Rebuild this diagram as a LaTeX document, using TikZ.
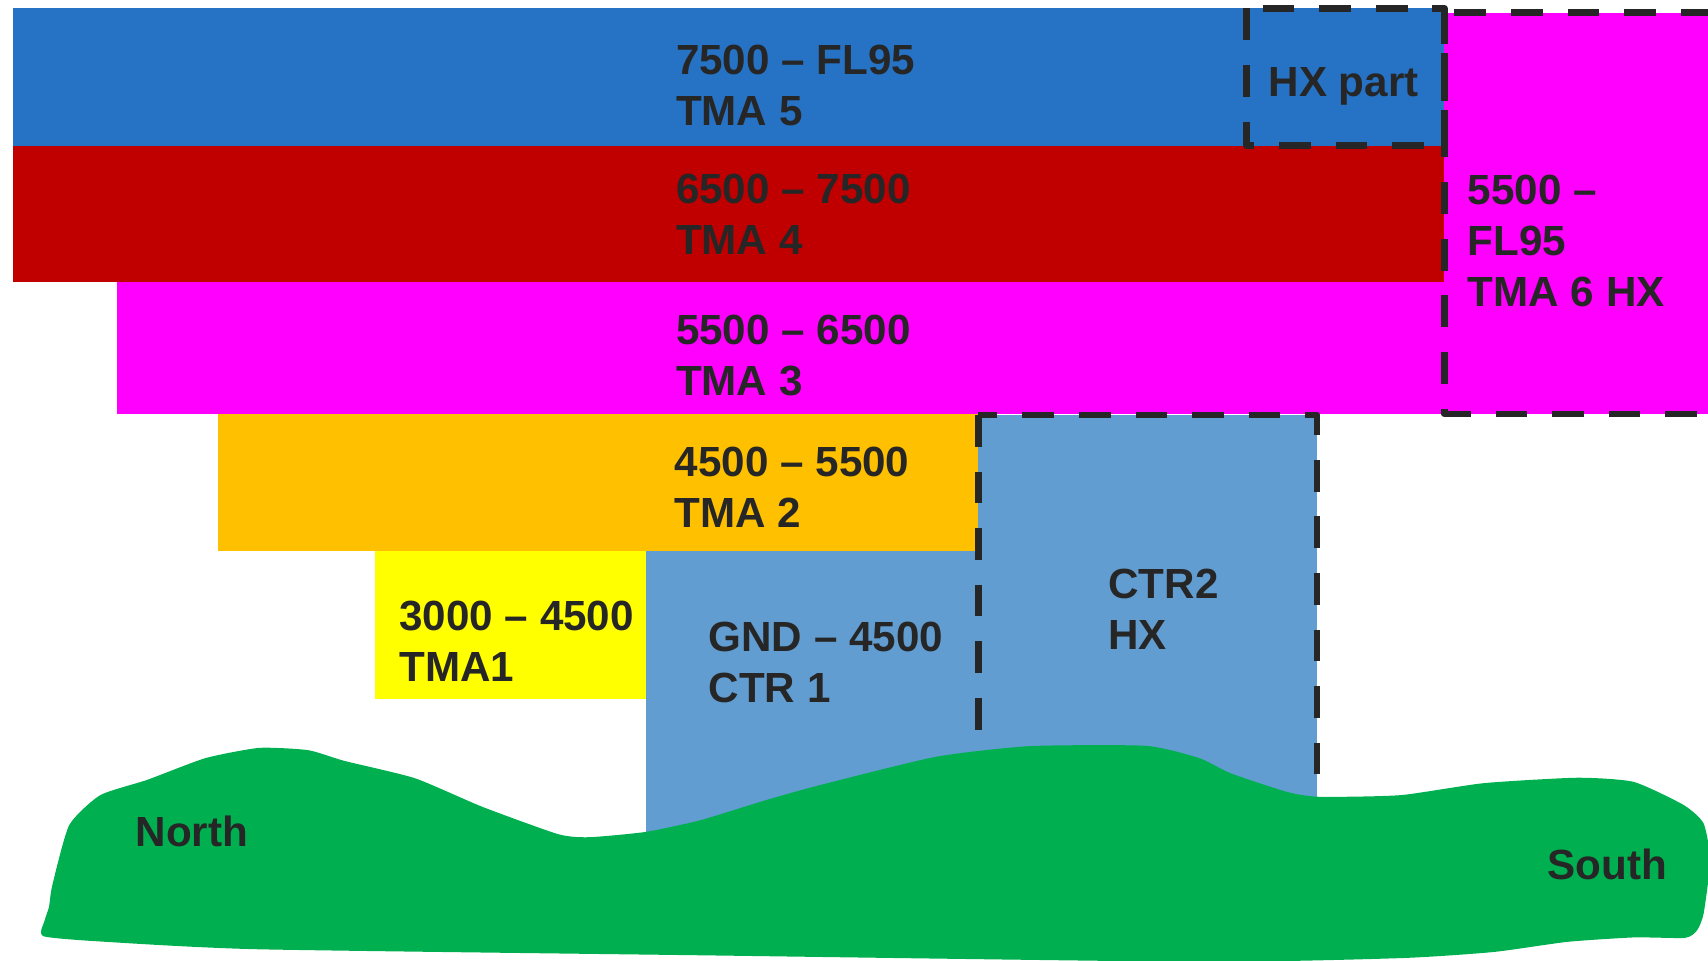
\documentclass[tikz,border=0pt]{standalone}
\usepackage{fontspec}
\setmainfont{Liberation Sans}
\usepackage{tikz}
\usetikzlibrary{positioning,scopes}

\definecolor{tmafive}{RGB}{38,114,196}
\definecolor{tmafour}{RGB}{192,0,0}
\definecolor{tmamag}{RGB}{255,0,255}
\definecolor{tmatwo}{RGB}{255,192,0}
\definecolor{tmaone}{RGB}{255,255,0}
\definecolor{ctrblue}{RGB}{98,157,209}
\definecolor{ground}{RGB}{0,176,80}
\definecolor{txtgray}{RGB}{38,38,38}

\begin{document}
\begin{tikzpicture}[x=0.010893cm,y=-0.010893cm,
    lbl/.style={anchor=base west,inner sep=0,align=left,text=txtgray,
      font=\bfseries\fontsize{12}{14.5}\selectfont},
    hxline/.style={draw=txtgray,line width=1.9pt,dash pattern=on 9pt off 7.1pt,line join=round}]
    \clip (0,0) rectangle (1568,882.2);

    % airspace slices
    \fill[tmafive] (12,7.7) rectangle (1326,133.8);
    \fill[tmafour] (12,133.8) rectangle (1326,258.6);
    \fill[tmamag] (107,258.6) rectangle (1326,380);
    \fill[tmamag] (1326,11.6) rectangle (1600,380);
    \fill[tmatwo] (200,380) rectangle (898,506);
    \fill[tmaone] (344,506) rectangle (593,642);
    \fill[ctrblue] (593,506) rectangle (898,790);
    \fill[ctrblue] (898,381) rectangle (1209,760);

    {[hxline]
      \draw (1144.6,7.7) rectangle (1326,133.8);
      \draw (1326,11.6) rectangle (1600,380);
      \draw (898,381) rectangle (1209,780);
    }

    % ground
    \fill[ground] plot[smooth cycle,tension=0.35] coordinates {
      (48,812.8) (63.5,757.6) (92,730) (135,716) (188.6,696) (238,686.6)
      (283,688.7) (316,698.5) (381,714.5) (442.8,740.7) (512.4,765.8)
      (541,768.6) (593,763.7) (643,753) (703,734.6) (752.6,720.8)
      (859,694.8) (945,685) (1052,684.7) (1101,696) (1130,710)
      (1181.5,727) (1211,731.5) (1285.6,730) (1362,719) (1447.8,714)
      (1499.7,717.8) (1545.6,739) (1564,756) (1570,790) (1564,838.6)
      (1558,854) (1547,861) (1500,860.6) (1438.6,864.7) (1371,874)
      (1285.6,879.6) (1102,883) (643,877) (238,871.5) (98,864.7)
      (40,859.5) (41,845) (45,832.6)};

    % base anchor sits on the last line
    \node[lbl] (tma5) at (620,115) {7500 – FL95\\TMA 5};
    \node[lbl] (tma4) at (620,234) {6500 – 7500\\TMA 4};
    \node[lbl] (tma3) at (620,363) {5500 – 6500\\TMA 3};
    \node[lbl] (tma2) at (619,484) {4500 – 5500\\TMA 2};
    \node[lbl] (tma1) at (366,626) {3000 – 4500\\TMA1};
    \node[lbl] (ctr1) at (650,645) {GND – 4500\\CTR 1};
    \node[lbl] (ctr2) at (1017,596) {CTR2\\HX};
    \node[lbl] (tma6) at (1347,281) {5500 –\\FL95\\TMA 6 HX};
    \node[lbl] (hxpart) at (1164,89) {HX part};
    \node[lbl] (north) at (124,777) {North};
    \node[lbl] (south) at (1420,807) {South};
  \end{tikzpicture}
\end{document}
